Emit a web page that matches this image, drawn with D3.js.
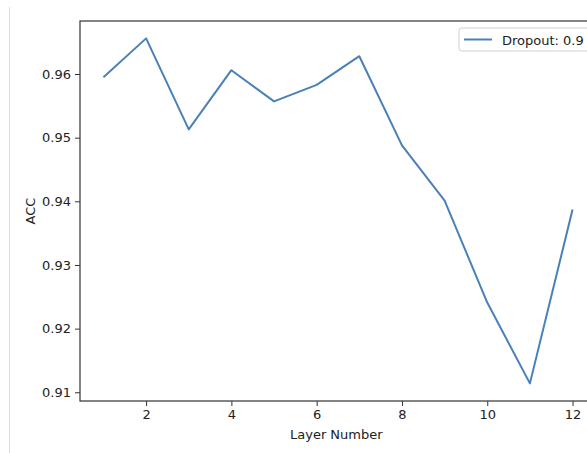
<!DOCTYPE html>
<html>
<head>
<meta charset="utf-8">
<script src="https://d3js.org/d3.v7.min.js"></script>
<style>
  body { margin: 0; background: #fff; }
  svg { display: block; font-family: "DejaVu Sans", sans-serif; }
</style>
</head>
<body>
<div class="chart"></div>
<script>
const layers = [1, 2, 3, 4, 5, 6, 7, 8, 9, 10, 11, 12];
const acc = [0.9595, 0.9656, 0.9513, 0.9606, 0.9557, 0.9583, 0.9628, 0.9488, 0.9401, 0.9241, 0.9114, 0.9387];
const xTicks = [2, 4, 6, 8, 10, 12];
const yTicks = [0.91, 0.92, 0.93, 0.94, 0.95, 0.96];
const seriesName = 'Dropout: 0.9';

const W = 587, H = 453;
const margin = { top: 21, left: 80, right: -9, bottom: 52 };
const width = W - margin.left - margin.right;
const height = H - margin.top - margin.bottom;

const svg = d3.select('.chart').append('svg').attr('width', W).attr('height', H);

// thin grey rule on the far left of the crop
svg.append('line')
  .attr('x1', 9.5).attr('x2', 9.5).attr('y1', 7).attr('y2', H)
  .style('stroke', '#dddddd').style('stroke-width', 1);

const g = svg.append('g').attr('transform', 'translate(' + margin.left + ',' + margin.top + ')');

const x = d3.scaleLinear().domain([0.45, 12.55]).range([0, width]);
const y = d3.scaleLinear().domain([0.90863, 0.96833]).range([height, 0]);

const line = d3.line()
  .x(function (d, i) { return x(layers[i]); })
  .y(function (d) { return y(d); });

g.append('path')
  .datum(acc)
  .attr('d', line)
  .style('fill', 'none')
  .style('stroke', '#4a80b8')
  .style('stroke-width', 2)
  .style('stroke-linejoin', 'round');

// spines
g.append('rect')
  .attr('x', 0).attr('y', 0).attr('width', width).attr('height', height)
  .style('fill', 'none').style('stroke', '#333').style('stroke-width', 1.2);

const xAxis = g.append('g').attr('transform', 'translate(0,' + height + ')')
  .call(d3.axisBottom(x).tickValues(xTicks).tickSize(5).tickPadding(4).tickFormat(d3.format('d')));
const yAxis = g.append('g')
  .call(d3.axisLeft(y).tickValues(yTicks).tickSize(5).tickPadding(4).tickFormat(d3.format('.2f')));

[xAxis, yAxis].forEach(function (a) {
  a.select('.domain').remove();
  a.selectAll('line').style('stroke', '#333');
  a.selectAll('text').style('font-size', '13px').style('fill', '#222')
    .style('font-family', '"DejaVu Sans", sans-serif');
});

svg.append('text')
  .attr('x', margin.left + x(6.46)).attr('y', 439)
  .attr('text-anchor', 'middle')
  .style('font-size', '13px').style('fill', '#222')
  .text('Layer Number');

svg.append('text')
  .attr('transform', 'translate(35,' + (margin.top + height / 2) + ') rotate(-90)')
  .attr('text-anchor', 'middle')
  .style('font-size', '13px').style('fill', '#222')
  .text('ACC');

// legend
const legend = svg.append('g').attr('transform', 'translate(459,28)');
legend.append('rect')
  .attr('width', 140).attr('height', 23).attr('rx', 3)
  .style('fill', '#fff').style('stroke', '#d0d0d0');
legend.append('line')
  .attr('x1', 5).attr('x2', 33).attr('y1', 11.5).attr('y2', 11.5)
  .style('stroke', '#4a80b8').style('stroke-width', 2);
legend.append('text')
  .attr('x', 43).attr('y', 16.5)
  .style('font-size', '13px').style('fill', '#222')
  .text(seriesName);
</script>
</body>
</html>
